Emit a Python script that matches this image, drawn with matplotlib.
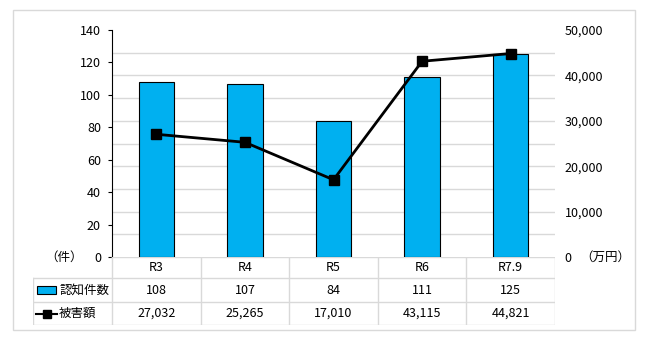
#!/usr/bin/env python3
"""Recognised cases and damage amount by year, bars + line with a data table."""

import numpy as np
import matplotlib
matplotlib.use('Agg')
import matplotlib.pyplot as plt
from matplotlib.patches import Rectangle

plt.rcParams['font.family'] = ['Noto Sans CJK JP', 'DejaVu Sans']
plt.rcParams['font.size'] = 9

years = ['R3', 'R4', 'R5', 'R6', 'R7.9']
cases = [108, 107, 84, 111, 125]
damage = [27032, 25265, 17010, 43115, 44821]
cases_label = '認知件数'
damage_label = '被害額'

BAR_BLUE = '#00b0f0'
GRID_GRAY = '#d9d9d9'

W, H = 650, 340
fig = plt.figure(figsize=(W / 100, H / 100), dpi=100)


def fx(px):
    return px / W


def fy(py):
    return 1 - py / H


# outer frame
fig.patches.append(Rectangle((fx(13), fy(330)), fx(635) - fx(13), fy(10) - fy(330),
                             transform=fig.transFigure, fill=False,
                             edgecolor=GRID_GRAY, linewidth=1.0))

left, right, top, bottom = 112, 555, 30, 257
ax = fig.add_axes([fx(left), fy(bottom), fx(right) - fx(left), fy(top) - fy(bottom)])
ax2 = ax.twinx()

x = np.arange(len(years))
ax.bar(x, cases, width=0.4, color=BAR_BLUE, edgecolor='black', linewidth=0.8, zorder=3)
ax.set_xlim(-0.5, len(years) - 0.5)
ax.set_ylim(0, 140)
ax.set_yticks(np.arange(0, 141, 20))
ax.set_yticks(np.arange(0, 141, 14), minor=True)
ax.grid(which='minor', axis='y', color=GRID_GRAY, linewidth=1.0, zorder=0)
ax.tick_params(axis='y', which='minor', length=0)
ax.tick_params(axis='y', which='major', length=3, width=0.8, direction='out', pad=5)
ax.set_xticks([])
for side in ('top', 'right', 'bottom'):
    ax.spines[side].set_visible(False)
ax.spines['left'].set_linewidth(0.8)

ax2.plot(x, damage, color='black', linewidth=2, marker='s', markersize=7, zorder=4)
ax2.set_ylim(0, 50000)
ax2.set_yticks(np.arange(0, 50001, 10000))
ax2.set_yticklabels([f'{v:,}' for v in range(0, 50001, 10000)])
ax2.tick_params(axis='y', length=0, pad=7)
for side in ('top', 'right', 'bottom', 'left'):
    ax2.spines[side].set_visible(False)

# unit labels next to the zero ticks
fig.text(fx(64), fy(257), '（件）', ha='center', va='center')
fig.text(fx(605), fy(257), '（万円）', ha='center', va='center')

# data table under the plot
tab = fig.add_axes([fx(33), fy(325), fx(right) - fx(33), fy(257) - fy(325)])
tab.set_xlim(33, right)
tab.set_ylim(325, 257)
tab.axis('off')

row_edges = [257, 278, 302, 325]
col_w = (right - left) / len(years)
col_edges = [left + i * col_w for i in range(len(years) + 1)]
line_kw = dict(color=GRID_GRAY, linewidth=1.0)
tab.plot([left, right], [row_edges[0]] * 2, **line_kw)
for yy in row_edges[1:]:
    tab.plot([33, right], [yy, yy], **line_kw)
tab.plot([33, 33], [row_edges[1], row_edges[-1]], **line_kw)
for xx in col_edges:
    tab.plot([xx, xx], [row_edges[0], row_edges[-1]], **line_kw)

rows = [years, [str(v) for v in cases], [f'{v:,}' for v in damage]]
for r, vals in enumerate(rows):
    yc = (row_edges[r] + row_edges[r + 1]) / 2
    for c, txt in enumerate(vals):
        tab.text((col_edges[c] + col_edges[c + 1]) / 2, yc, txt, ha='center', va='center')

# legend keys in the first column
y1 = (row_edges[1] + row_edges[2]) / 2
y2 = (row_edges[2] + row_edges[3]) / 2
tab.add_patch(Rectangle((37, y1 - 4), 19, 8, facecolor=BAR_BLUE, edgecolor='black', linewidth=0.8))
tab.text(59, y1, cases_label, ha='left', va='center')
tab.plot([36, 46.5, 57], [y2, y2, y2], color='black', linewidth=1.5,
         marker='s', markersize=6, markevery=[1])
tab.text(59, y2, damage_label, ha='left', va='center')

fig.savefig('out.png', dpi=100)
